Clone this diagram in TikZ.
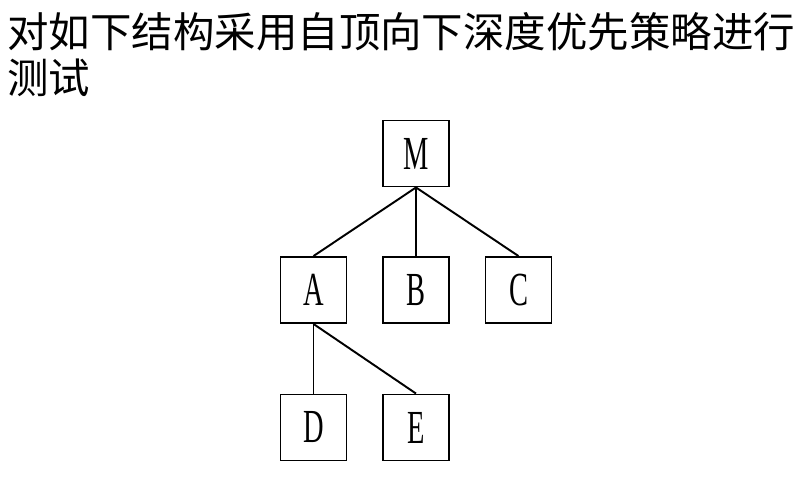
\documentclass[tikz,border=0pt]{standalone}
\usepackage{fontspec}
\usepackage{tikz}
\newfontfamily\cjkfont{Noto Sans CJK SC}
\newfontfamily\boxfont[FakeStretch=0.6]{Liberation Serif}

\begin{document}
\begin{tikzpicture}[x=0.02cm, y=-0.02cm,
    box/.style={draw, rectangle, line width=1.1pt, minimum size=1.32cm, inner sep=0pt, font=\boxfont\fontsize{27}{27}\selectfont},
    link/.style={line width=1.1pt}]
            \useasboundingbox (0,0) rectangle (801,491);

            % Title
            \node[anchor=north west, align=left, inner sep=0pt, font=\cjkfont\fontsize{23.6}{26.5}\selectfont] (title) at (7,12) {对如下结构采用自顶向下深度优先策略进行\\测试};

            % Root
            \node[box] (M) at (416,153.5) {M};

            % Second level
            \node[box] (A) at (313.5,290) {A};
            \node[box] (B) at (416,290) {B};
            \node[box] (C) at (518.5,290) {C};

            % Third level
            \node[box] (D) at (313.5,427.5) {D};
            \node[box] (E) at (416,427.5) {E};

            % Links
            \draw[link] (M.south) -- (A.north);
            \draw[link] (M.south) -- (B.north);
            \draw[link] (M.south) -- (C.north);

            \draw[link] (A.south) -- (D.north);
            \draw[link] (A.south) -- (E.north);
        \end{tikzpicture}
\end{document}
